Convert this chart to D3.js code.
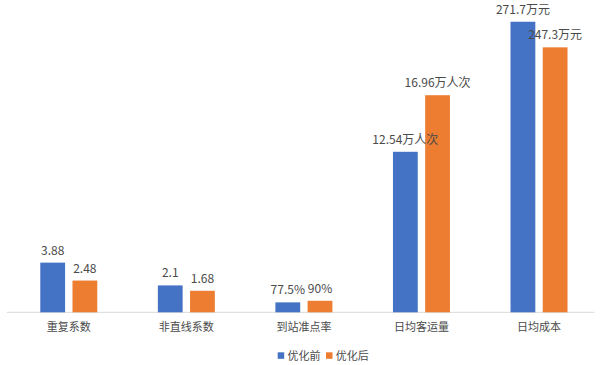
<!DOCTYPE html>
<html><head><meta charset="utf-8">
<script src="https://cdn.jsdelivr.net/npm/d3@7"></script>
<style>body{margin:0;background:#fff;}svg{display:block;}</style>
</head><body>
<svg id="chart" width="602" height="365"></svg>
<script>
const categories = ["重复系数","非直线系数","到站准点率","日均客运量","日均成本"];
const seriesNames = ["优化前","优化后"];
const beforeValues = [3.88, 2.1, 0.775, 12.54, 22.7];
const afterValues = [2.48, 1.68, 0.9, 16.96, 20.7];
const beforeLabels = ["3.88","2.1","77.5%","12.54万人次","271.7万元"];
const afterLabels = ["2.48","1.68","90%","16.96万人次","247.3万元"];
const colors = ["#4472C4","#ED7D31"];

const svg = d3.select("#chart");
const font = "'Noto Sans CJK SC','Microsoft YaHei',sans-serif";
const textColor = "#4a4a4a";
const baseY = 312.3;
const x0 = d3.scaleBand().domain(categories).range([10, 597.8]).paddingInner(0).paddingOuter(0);
const x1 = d3.scaleBand().domain([0,1]).range([-28.5, 28.5]).paddingInner(0.23).paddingOuter(0);
const y = d3.scaleLinear().domain([0, 24]).range([baseY, baseY - 24*12.8]);

// axis line
svg.append("line").attr("x1", 6.7).attr("x2", 594.5).attr("y1", baseY).attr("y2", baseY)
  .attr("stroke", "#d9d9d9").attr("stroke-width", 1);

const series = [beforeValues, afterValues];
const labels = [beforeLabels, afterLabels];
const barLayer = svg.append("g");
const labelLayer = svg.append("g");
series.forEach((vals, s) => {
  barLayer.append("g").selectAll("rect").data(vals).join("rect")
    .attr("x", (d,i) => x0(categories[i]) + x0.bandwidth()/2 + x1(s))
    .attr("width", x1.bandwidth())
    .attr("y", d => y(d))
    .attr("height", d => baseY - y(d))
    .attr("fill", colors[s]);
  labelLayer.append("g").selectAll("text").data(vals).join("text")
    .attr("x", (d,i) => x0(categories[i]) + x0.bandwidth()/2 + x1(s) + x1.bandwidth()/2)
    .attr("y", d => y(d) - 8)
    .attr("text-anchor", "middle")
    .attr("font-family", font).attr("font-size", 12).attr("fill", textColor)
    .text((d,i) => labels[s][i]);
});

// category labels
svg.append("g").selectAll("text").data(categories).join("text")
  .attr("x", d => x0(d) + x0.bandwidth()/2)
  .attr("y", 331)
  .attr("text-anchor", "middle")
  .attr("font-family", font).attr("font-size", 11).attr("fill", textColor)
  .text(d => d);

// legend
const legend = svg.append("g");
const legendItems = [{x: 277.7, name: seriesNames[0], c: colors[0]}, {x: 326, name: seriesNames[1], c: colors[1]}];
legendItems.forEach(it => {
  legend.append("rect").attr("x", it.x).attr("y", 352.3).attr("width", 6.5).attr("height", 6.5).attr("fill", it.c);
  legend.append("text").attr("x", it.x + 9.8).attr("y", 360)
    .attr("font-family", font).attr("font-size", 11).attr("fill", textColor).text(it.name);
});
</script>
</body></html>
